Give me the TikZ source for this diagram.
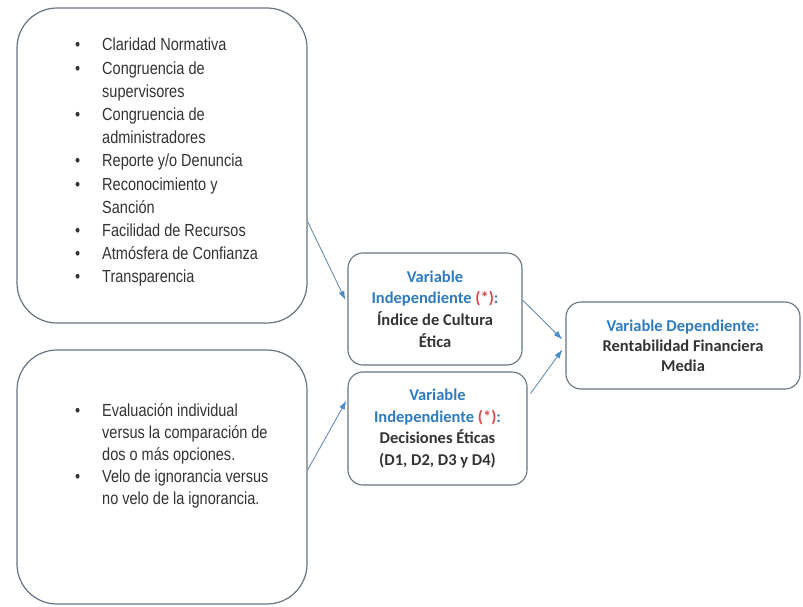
\documentclass[tikz,border=0pt]{standalone}
\usepackage{fontspec}
\setmainfont{Liberation Sans}[FakeStretch=0.83]
\newfontfamily\varfont{Carlito}
\usetikzlibrary{arrows.meta,positioning}
\definecolor{Frame}{HTML}{66737F}
\definecolor{Flow}{HTML}{6A8CB3}
\definecolor{FlowTip}{HTML}{4A8BC9}
\definecolor{VarBlue}{HTML}{2E7BC0}
\definecolor{Star}{HTML}{D9474B}
\definecolor{Ink}{HTML}{333333}
\definecolor{ListInk}{HTML}{333333}
\newcommand{\bul}{\makebox[27pt][l]{\textbullet}}
\newcommand{\cont}{\hspace*{27pt}}
\newcommand{\tightspace}{\spaceskip=4pt plus 1pt minus 1pt\relax}

\begin{document}
\begin{tikzpicture}[
    x=1pt, y=-1pt,
    panel/.style={
      rounded corners=40pt,
      draw=Frame,
      line width=1.2pt,
      inner sep=0pt,
      minimum width=290pt
    },
    itemlist/.style={
      anchor=north west,
      inner sep=0pt,
      text width=200pt,
      align=left,
      text=ListInk
    },
    varbox/.style={
      rounded corners=15pt,
      draw=Frame,
      line width=1.1pt,
      inner sep=0pt,
      align=center,
      text=Ink,
      font=\varfont\bfseries\fontsize{16.5}{21.7}\selectfont
    },
    flow/.style={-{Latex[length=9pt,width=6pt,color=FlowTip]}, draw=Flow, line width=0.9pt}
  ]
    \useasboundingbox (0,0) rectangle (803,606);

    \node[panel, minimum height=315pt] (factors) at (162,165.5) {};
    \node[itemlist, font=\fontsize{17.5}{23.2}\selectfont] (factorlist) at (75,38) {\tightspace
      \bul Claridad Normativa\\
      \bul Congruencia de\\
      \cont supervisores\\
      \bul Congruencia de\\
      \cont administradores\\
      \bul Reporte y/o Denuncia\\
      \bul Reconocimiento y\\
      \cont Sanción\\
      \bul Facilidad de Recursos\\
      \bul Atmósfera de Confianza\\
      \bul Transparencia};

    \node[panel, minimum height=254pt] (choices) at (162,477) {};
    \node[itemlist, font=\fontsize{17.5}{22}\selectfont] (choicelist) at (75,403) {\tightspace
      \bul Evaluación individual\\
      \cont versus la comparación de\\
      \cont dos o más opciones.\\
      \bul Velo de ignorancia versus\\
      \cont no velo de la ignorancia.};

    \node[varbox, minimum width=174pt, minimum height=112pt] (culture) at (435,309) {%
      \textcolor{VarBlue}{Variable}\\
      \textcolor{VarBlue}{Independiente} \textcolor{Star}{(*)}\textcolor{VarBlue}{:}\\
      Índice de Cultura\\
      Ética};
    \node[varbox, minimum width=179pt, minimum height=113pt] (decisions) at (437.5,428.5) {%
      \textcolor{VarBlue}{Variable}\\
      \textcolor{VarBlue}{Independiente} \textcolor{Star}{(*)}\textcolor{VarBlue}{:}\\
      Decisiones Éticas\\
      (D1, D2, D3 y D4)};
    \node[varbox, font=\varfont\bfseries\fontsize{16.5}{20}\selectfont,
          minimum width=234pt, minimum height=87pt] (profit) at (683,345.5) {%
      \textcolor{VarBlue}{Variable Dependiente:}\\
      Rentabilidad Financiera\\
      Media};

    \draw[flow] ([yshift=-56pt]factors.east) -- ([yshift=9pt,xshift=-2pt]culture.west);
    \draw[flow] ([yshift=7pt]choices.east) -- ([yshift=28pt,xshift=-1pt]decisions.west);
    \draw[flow] ([yshift=9pt]culture.east) -- ([yshift=6pt,xshift=-3pt]profit.west);
    \draw[flow] ([yshift=35pt,xshift=3pt]decisions.east) -- ([yshift=-4pt,xshift=-3pt]profit.west);
  \end{tikzpicture}
\end{document}
